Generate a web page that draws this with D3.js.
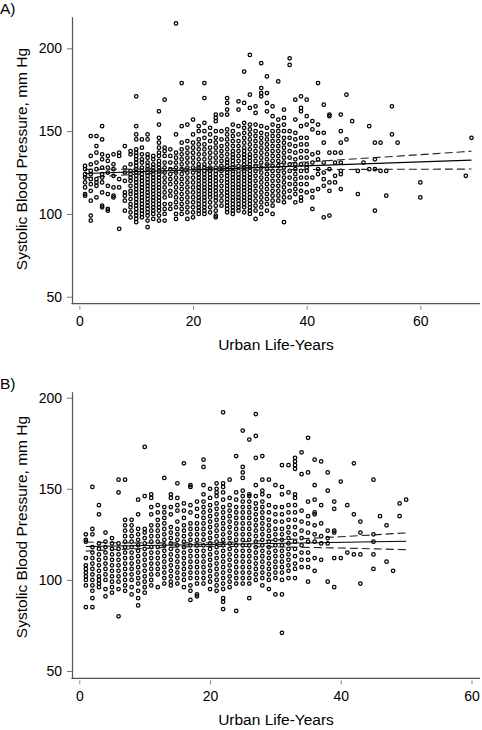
<!DOCTYPE html>
<html><head><meta charset="utf-8">
<script src="https://cdn.jsdelivr.net/npm/d3@7"></script>
<style>
body{margin:0;background:#fff}
svg{display:block}
text{font-family:"Liberation Sans",Arial,Helvetica,sans-serif;fill:#000}
</style>
</head><body>
<svg id="c" width="482" height="730"></svg>
<script>
// ---------- Panel A data: urban life-years (columns) and SBP values ----------
const yearsA = [1,2,3,4,5,6,7,8,9,10,11,12,13,14,15,16,17,18,19,20,21,22,23,24,25,26,27,28,29,30,31,32,33,34,35,36,37,38,39,40,41,42,43,44,45,46,47,48,49,50,51,52,53,54,55,56,60,68,69];
const sbpA = [
 [129,127,124,122,119,116,112,111],
 [147,135,130,126,124,121,118,114,108,99,96],
 [147,141,137,131,127,121,119,117,110],
 [153,145,136,133,128,124,122,119,113,105,104],
 [135,132,128,125,117,112,103,102],
 [136,130,127,123,116,111,110],
 [137,135,121,116,91],
 [141,128,125,120,113,111,108,102],
 [138,136,130,126,124,122,120,117,114,112,109,106,104,101,98],
 [171,153,148,145,139,137,135,133,131,129,127,125,123,121,119,117,115,113,111,109,107,105,103,101,99,97,95],
 [145,140,136,133,131,128,126,124,122,120,118,116,114,112,110,108,106,104,102,100,98],
 [148,145,136,134,131,129,127,125,123,121,119,117,115,113,111,109,107,105,103,101,99,96,92],
 [135,133,130,128,126,124,122,120,118,116,114,112,110,108,106,104,102,100,97],
 [162,154,146,143,140,137,135,132,130,128,126,124,122,120,118,116,114,112,110,108,106,104,102,99,96],
 [169,140,138,135,131,128,125,122,119,116,113,110,106,103,100,96],
 [139,135,131,127,124,121,118,114,111,106,103],
 [215,148,137,134,131,128,125,122,119,116,113,110,107,104,100,97],
 [179,153,143,139,136,133,130,127,124,121,118,115,112,109,106,103,100],
 [154,144,140,137,134,131,128,125,122,119,116,113,110,107,104,101,97],
 [157,148,143,140,137,134,131,128,125,122,119,116,113,110,107,104,101,98],
 [153,150,145,142,139,136,133,130,128,126,124,122,120,118,116,114,112,110,108,106,104,102,100],
 [179,170,155,150,146,142,139,136,133,130,128,126,124,122,120,118,116,114,112,110,108,106,104,102,100],
 [152,148,144,140,137,134,131,128,126,124,122,120,118,116,114,112,110,107,104,101],
 [160,158,156,150,146,143,140,137,134,131,128,126,124,122,120,118,116,114,112,110,108,105,102,99,98],
 [160,150,145,141,138,135,132,129,126,123,120,117,114,111,108,105],
 [170,167,163,160,151,148,145,142,139,136,133,131,129,127,125,123,121,119,117,115,113,111,109,107,105,103,101],
 [154,150,147,144,141,138,136,134,132,130,128,126,124,122,120,118,116,114,112,110,108,106,104,102,100],
 [168,163,153,148,144,141,138,135,132,129,126,124,122,120,118,116,114,112,110,108,106,104,102],
 [186,167,155,152,149,146,143,140,138,136,134,132,130,128,126,124,122,120,118,116,114,112,110,108,106,104,101],
 [196,172,164,154,151,148,145,142,139,136,134,132,130,128,126,124,122,120,118,116,114,112,110,108,106,104,102,100],
 [165,161,154,150,147,144,141,138,135,132,129,126,123,120,117,114,111,108,105,102,97],
 [191,176,173,171,153,149,146,143,140,137,134,131,128,125,122,119,116,113,110,107,104,100],
 [183,173,167,162,152,148,145,142,139,136,133,130,127,124,121,118,115,112,109,106,102],
 [165,159,154,150,147,144,141,138,135,132,129,126,123,120,117,114,111,108,105,100],
 [180,157,153,150,147,144,141,138,135,132,129,126,123,120,117,114,111,108],
 [163,158,154,150,146,143,140,137,134,131,128,125,122,119,116,113,110,107,95],
 [194,190,150,146,142,138,134,130,126,122,118,114,110],
 [169,157,149,145,141,137,133,130,127,124,121,118,115,112,107],
 [171,164,162,153,146,142,138,134,130,126,122,118,114,110,108],
 [169,159,154,146,142,138,134,130,128,126,122,118,113],
 [156,151,136,131,122,114,110,103],
 [179,154,149,137,133,127,124,115],
 [166,149,143,131,125,121,117,98],
 [160,159,137,127,119,114,99],
 [137,131,123,119],
 [160,150,143,137,131,126,124,115],
 [172,145],
 [156],
 [126,112],
 [131],
 [153,127],
 [143,133,127,102],
 [143,126],
 [126,111],
 [165,148],
 [143],
 [119,110],
 [123],
 [146]
];
// fitted line and 95% CI
const fitXA = [1, 69];
const fitYA = [124.4, 132.5];
const ciXA = [1, 10, 20, 30, 40, 50, 60, 69];
const ciUpA = [126.9, 127.1, 127.7, 129.3, 131.4, 133.6, 135.8, 137.9];
const ciLoA = [121.9, 123.9, 125.7, 126.5, 126.8, 126.9, 127.0, 127.1];

// ---------- Panel B data ----------
const yearsB = [1,2,3,4,5,6,7,8,9,10,11,12,13,14,15,16,17,18,19,20,21,22,23,24,25,26,27,28,29,30,31,32,33,34,35,36,37,38,39,40,41,42,43,45,46,47,48,49,50];
const sbpB = [
 [125,122,121,112,108,106,104,102,100,97,85],
 [151,128,125,118,115,112,109,106,103,100,97,94,90,85],
 [141,136,120,117,114,111,108,105,102,100,98,96],
 [126,121,118,115,112,109,106,103,100,95,91],
 [123,120,117,114,111,108,105,102,99,96,93],
 [155,148,120,117,114,111,108,105,102,99,95,80],
 [155,133,130,127,124,121,118,115,112,109,106,103,100,97,94],
 [133,130,127,124,121,118,115,112,109,106,103,100,96,92],
 [144,136,128,125,122,119,116,113,110,107,104,101,98,94,90,86],
 [173,146,128,126,123,120,117,114,111,108,105,102,99,96,93],
 [147,145,140,136,130,127,124,121,118,115,112,109,106,103,100,97],
 [141,137,133,130,127,124,121,118,115,112,109,106,103,96],
 [156,140,137,134,131,128,125,122,119,116,113,110,107,104,101,98],
 [147,145,140,136,129,126,123,120,117,114,111,108,105,102,99,97],
 [153,145,141,138,132,128,125,122,119,116,113,110,107,104,101,98],
 [164,142,138,134,130,127,124,121,118,115,112,109,106,103,100,96],
 [152,151,141,137,131,128,125,122,119,116,113,110,107,104,101,97,94,89],
 [143,139,135,131,128,125,122,119,116,113,110,107,104,101,98,92,91],
 [166,162,152,147,143,140,137,134,131,128,125,122,119,116,113,110,107,104,101,98],
 [150,145,141,138,135,132,129,126,123,120,117,114,111,108,105,102,99,95],
 [153,150,148,146,142,139,136,133,130,127,124,121,118,115,112,109,106,103,100,97,94],
 [192,153,151,148,144,140,137,134,131,128,125,122,119,116,113,110,107,104,101,98,95,90,88,84],
 [155,145,141,138,135,132,129,126,123,120,117,114,111,108,105,102,99,96],
 [168,148,144,140,137,134,131,128,125,122,119,116,113,110,107,104,101,98,83],
 [182,162,159,156,149,146,143,140,137,134,131,128,125,122,119,116,113,110,107,104,101,98],
 [177,147,146,143,140,137,134,131,128,125,122,119,116,113,110,107,104,101,98,90],
 [191,179,167,152,146,142,139,136,133,130,127,124,121,118,115,112,109,106,103,100],
 [168,155,149,147,143,140,137,134,131,128,125,122,119,116,113,110,107,104,101,97],
 [155,146,141,137,133,130,127,124,121,118,115,112,109,106,103,100,95],
 [152,140,136,132,128,125,122,119,116,113,110,107,104,101,92],
 [163,151,147,140,136,132,128,125,122,119,116,113,110,107,104,100,92,71],
 [163,148,141,137,133,129,126,123,120,117,114,111,108,105,101],
 [167,165,163,161,147,145,141,137,133,129,125,121,117,113,109,106,101],
 [170,158,138,132,127,123,119,115,111,107],
 [178,159,143,135,131,126,121,115,111,107,99],
 [166,152,144,137,136,130,125,121,112,105],
 [165,141,131,124,120,111],
 [159,149,127,123,120,99],
 [143,139,127,126,112,96],
 [154,112],
 [141,115],
 [164,136,114],
 [132,126,114,98],
 [155,125,121,114,106],
 [135],
 [130,110],
 [105],
 [142,135],
 [144]
];
const fitXB = [1, 50];
const fitYB = [118.3, 121.2];
const ciXB = [1, 10, 20, 30, 40, 50];
const ciUpB = [120.8, 120.3, 120.4, 121.9, 123.7, 125.8];
const ciLoB = [115.8, 117.3, 118.4, 118.1, 117.5, 116.6];

const yTickVals = [50, 100, 150, 200];
const xTickValsA = [0, 20, 40, 60];
const xTickValsB = [0, 20, 40, 60];
const panelLabels = ["A)", "B)"];
const yTitle = "Systolic Blood Pressure, mm Hg";
const xTitle = "Urban Life-Years";

const svg = d3.select("#c");
const AX = "#555";

function drawPanel(o) {
  const g = svg.append("g");
  const x = d3.scaleLinear().domain(o.xDomain).range([72, 480]);
  const y = d3.scaleLinear().domain(o.yDomain).range([o.bottom, o.top]);

  // points
  const pts = [];
  o.years.forEach((yr, i) => o.sbp[i].forEach(v => pts.push([yr, v])));
  g.append("g").selectAll("circle").data(pts).join("circle")
    .attr("cx", d => x(d[0])).attr("cy", d => y(d[1])).attr("r", 1.75)
    .attr("fill", "none").attr("stroke", "#000").attr("stroke-width", 1.25);

  // CI and fit
  const ln = d3.line().x(d => x(d[0])).y(d => y(d[1])).curve(d3.curveMonotoneX);
  g.append("path").attr("d", ln(o.ciX.map((v, i) => [v, o.ciUp[i]])))
    .attr("fill", "none").attr("stroke", "#222").attr("stroke-width", 1.1).attr("stroke-dasharray", "8,4");
  g.append("path").attr("d", ln(o.ciX.map((v, i) => [v, o.ciLo[i]])))
    .attr("fill", "none").attr("stroke", "#222").attr("stroke-width", 1.1).attr("stroke-dasharray", "8,4");
  g.append("path").attr("d", ln(o.fitX.map((v, i) => [v, o.fitY[i]])))
    .attr("fill", "none").attr("stroke", "#000").attr("stroke-width", 1.1);

  // y axis
  const ya = g.append("g").attr("transform", "translate(72,0)")
    .call(d3.axisLeft(y).tickValues(yTickVals).tickSize(5).tickSizeOuter(0).tickPadding(5));
  ya.select(".domain").attr("stroke", AX).attr("stroke-width", 1.2);
  ya.selectAll(".tick line").attr("stroke", "#777");
  ya.selectAll(".tick text").attr("font-size", 14).attr("font-family", "Liberation Sans, Arial, sans-serif").attr("fill", "#000");

  // x axis
  g.append("line").attr("x1", 71.4).attr("x2", 480).attr("y1", o.bottom).attr("y2", o.bottom)
    .attr("stroke", AX).attr("stroke-width", 1.2);
  const xa = g.append("g").attr("transform", `translate(0,${o.bottom + 2})`)
    .call(d3.axisBottom(x).tickValues(o.xTicks).tickSize(4).tickSizeOuter(0));
  xa.select(".domain").remove();
  xa.selectAll(".tick line").attr("stroke", "#888");
  xa.selectAll(".tick text").attr("font-size", 14).attr("font-family", "Liberation Sans, Arial, sans-serif")
    .attr("fill", "#000").attr("dy", 0).attr("y", o.xLabelBase - o.bottom - 2);

  // titles
  g.append("text").attr("x", 276).attr("y", o.xTitleBase).attr("text-anchor", "middle")
    .attr("font-size", 15.5).text(xTitle);
  g.append("text").attr("transform", `translate(27,${o.yTitleCenter}) rotate(-90)`).attr("text-anchor", "middle")
    .attr("font-size", 15.5).text(yTitle);
  g.append("text").attr("x", 0).attr("y", o.labelBase).attr("font-size", 15.5).text(o.label);
}

drawPanel({years: yearsA, sbp: sbpA, fitX: fitXA, fitY: fitYA, ciX: ciXA, ciUp: ciUpA, ciLo: ciLoA,
  xDomain: [-1.3, 70.5], yDomain: [45.8, 219.1], top: 16.7, bottom: 303.7, xTicks: xTickValsA,
  xLabelBase: 326, xTitleBase: 350, yTitleCenter: 159, label: panelLabels[0], labelBase: 14});
drawPanel({years: yearsB, sbp: sbpB, fitX: fitXB, fitY: fitYB, ciX: ciXB, ciUp: ciUpB, ciLo: ciLoB,
  xDomain: [-1.12, 61.3], yDomain: [46, 203.3], top: 391.7, bottom: 678.3, xTicks: xTickValsB,
  xLabelBase: 701, xTitleBase: 725, yTitleCenter: 527, label: panelLabels[1], labelBase: 389});
</script>
</body></html>
